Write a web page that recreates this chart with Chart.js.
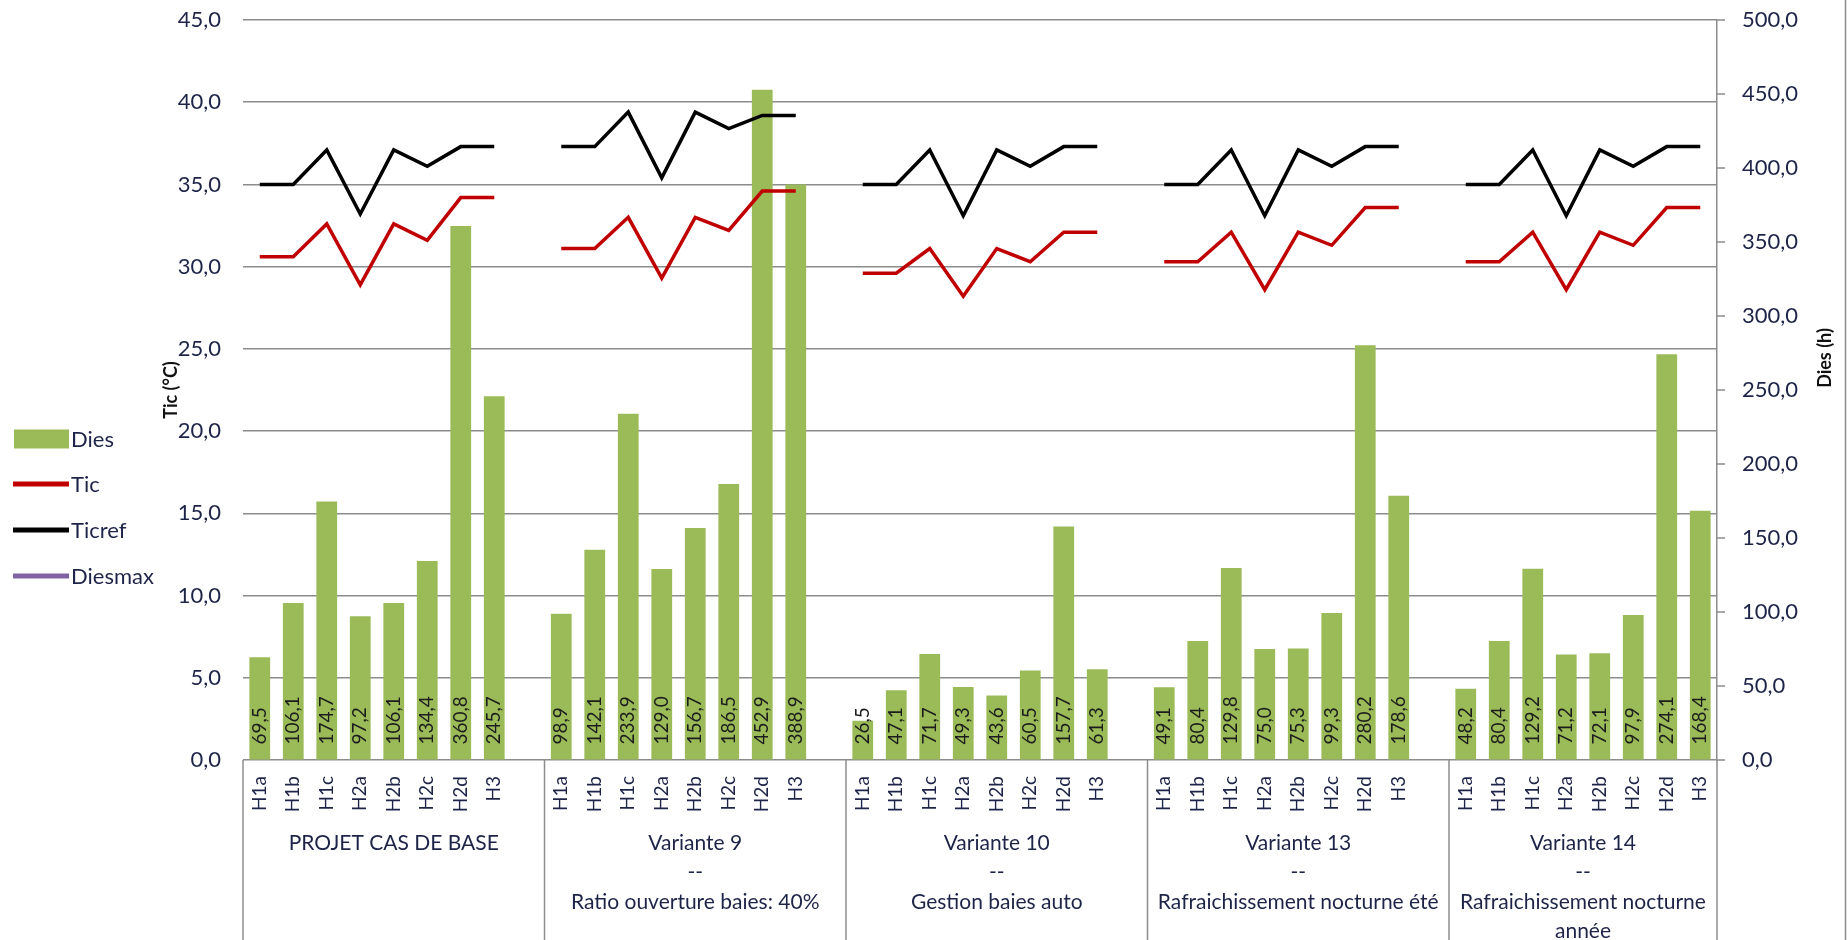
<!DOCTYPE html>
<html><head><meta charset="utf-8">
<script src="https://cdn.jsdelivr.net/npm/chart.js@4/dist/chart.umd.min.js"></script>
<style>html,body{margin:0;padding:0;background:#fff;}canvas{display:block;}</style>
</head><body>
<canvas id="c" width="1847" height="940"></canvas>
<script>
// ---- DATA ----
const subCategories = ['H1a','H1b','H1c','H2a','H2b','H2c','H2d','H3'];
const groupLabels = [
  ['PROJET CAS DE BASE'],
  ['Variante 9','--','Ratio ouverture baies: 40%'],
  ['Variante 10','--','Gestion baies auto'],
  ['Variante 13','--','Rafraichissement nocturne été'],
  ['Variante 14','--','Rafraichissement nocturne','année']
];
const diesBase = [69.5,106.1,174.7,97.2,106.1,134.4,360.8,245.7];
const diesV9   = [98.9,142.1,233.9,129.0,156.7,186.5,452.9,388.9];
const diesV10  = [26.5,47.1,71.7,49.3,43.6,60.5,157.7,61.3];
const diesV13  = [49.1,80.4,129.8,75.0,75.3,99.3,280.2,178.6];
const diesV14  = [48.2,80.4,129.2,71.2,72.1,97.9,274.1,168.4];

const ticBase = [30.6,30.6,32.6,28.9,32.6,31.6,34.2,34.2];
const ticV9   = [31.1,31.1,33.0,29.3,33.0,32.2,34.6,34.6];
const ticV10  = [29.6,29.6,31.1,28.2,31.1,30.3,32.1,32.1];
const ticV13  = [30.3,30.3,32.1,28.6,32.1,31.3,33.6,33.6];
const ticV14  = [30.3,30.3,32.1,28.6,32.1,31.3,33.6,33.6];

const ticrefBase = [35.0,35.0,37.1,33.2,37.1,36.1,37.3,37.3];
const ticrefV9   = [37.3,37.3,39.4,35.4,39.4,38.4,39.2,39.2];
const ticrefV10  = [35.0,35.0,37.1,33.1,37.1,36.1,37.3,37.3];
const ticrefV13  = [35.0,35.0,37.1,33.1,37.1,36.1,37.3,37.3];
const ticrefV14  = [35.0,35.0,37.1,33.1,37.1,36.1,37.3,37.3];

const diesmax = [null,null,null,null,null,null,null,null];

// ---- BUILD (one blank slot after every group but the last) ----
function joinGroups(groups, blank){
  const out = [];
  groups.forEach((g,i)=>{ out.push(...g); if(i<groups.length-1) out.push(blank); });
  return out;
}
const labels = joinGroups(groupLabels.map(()=>subCategories), '');
const diesData = joinGroups([diesBase,diesV9,diesV10,diesV13,diesV14], null);
const ticData = joinGroups([ticBase,ticV9,ticV10,ticV13,ticV14], null);
const ticrefData = joinGroups([ticrefBase,ticrefV9,ticrefV10,ticrefV13,ticrefV14], null);
const diesmaxData = joinGroups([diesmax,diesmax,diesmax,diesmax,diesmax], null);

const FONT = 'Lato';
const TXT = '#1e2448';
const GRID = '#8c8c8c';
const fmt = v => Number(v).toFixed(1).replace('.', ',');

const decor = {
  id: 'decor',
  afterDatasetsDraw(chart){
    const ctx = chart.ctx;
    const meta = chart.getDatasetMeta(0);
    ctx.save();
    ctx.font = '19px ' + FONT;
    ctx.fillStyle = '#1c1c1c';
    ctx.textAlign = 'left';
    ctx.textBaseline = 'middle';
    meta.data.forEach((el, i) => {
      const v = chart.data.datasets[0].data[i];
      if (v === null || v === undefined) return;
      ctx.save();
      ctx.translate(el.x, el.base - 15);
      ctx.rotate(-Math.PI/2);
      ctx.fillText(fmt(v), 0, 0);
      ctx.restore();
    });
    ctx.restore();
  },
  afterDraw(chart){
    const ctx = chart.ctx;
    const xs = chart.scales.x;
    const y1 = chart.scales.y1;
    const slot = xs.getPixelForValue(1) - xs.getPixelForValue(0);
    ctx.save();
    ctx.strokeStyle = GRID;
    ctx.lineWidth = 1.5;
    // right-axis outward tick marks
    y1.ticks.forEach(t => {
      const py = y1.getPixelForValue(t.value);
      ctx.beginPath(); ctx.moveTo(y1.left, py); ctx.lineTo(y1.left + 8, py); ctx.stroke();
    });
    // group boundaries
    const bounds = [xs.left];
    let idx = 0;
    groupLabels.forEach((g, gi) => {
      idx += subCategories.length + (gi < groupLabels.length-1 ? 1 : 0);
      bounds.push(gi < groupLabels.length-1 ? xs.getPixelForValue(idx-1) + slot/2 : xs.right);
    });
    bounds.forEach(b => {
      ctx.beginPath(); ctx.moveTo(b, xs.top); ctx.lineTo(b, chart.height); ctx.stroke();
    });
    // outer frame right edge
    ctx.beginPath(); ctx.moveTo(1845.5, 0); ctx.lineTo(1845.5, chart.height); ctx.stroke();
    // group labels
    ctx.fillStyle = TXT;
    ctx.font = '21px ' + FONT;
    ctx.textAlign = 'center';
    ctx.textBaseline = 'middle';
    groupLabels.forEach((lines, gi) => {
      const cx = (bounds[gi] + bounds[gi+1]) / 2;
      lines.forEach((t, li) => ctx.fillText(t, cx, 843 + li * 29.5));
    });
    // axis titles
    ctx.font = 'bold 18px ' + FONT;
    ctx.fillStyle = '#111';
    ctx.save(); ctx.translate(171, 390); ctx.rotate(-Math.PI/2); ctx.fillText('Tic (°C)', 0, 0); ctx.restore();
    ctx.save(); ctx.translate(1825, 358); ctx.rotate(-Math.PI/2); ctx.fillText('Dies (h)', 0, 0); ctx.restore();
    // legend
    const items = [
      {ds: chart.data.datasets[0], type: 'rect', y: 439},
      {ds: chart.data.datasets[1], type: 'line', y: 484},
      {ds: chart.data.datasets[2], type: 'line', y: 530},
      {ds: chart.data.datasets[3], type: 'line', y: 576}
    ];
    ctx.font = '22px ' + FONT;
    ctx.textAlign = 'left';
    items.forEach(it => {
      if (it.type === 'rect') {
        ctx.fillStyle = it.ds.backgroundColor;
        ctx.fillRect(14, it.y - 9.5, 55, 19);
      } else {
        ctx.strokeStyle = it.ds.borderColor;
        ctx.lineWidth = 5;
        ctx.beginPath(); ctx.moveTo(13, it.y); ctx.lineTo(69, it.y); ctx.stroke();
      }
      ctx.fillStyle = TXT;
      ctx.fillText(it.ds.label, 71, it.y + 1);
    });
    ctx.restore();
  }
};

new Chart(document.getElementById('c'), {
  data: {
    labels: labels,
    datasets: [
      { type: 'bar', label: 'Dies', data: diesData, yAxisID: 'y1', backgroundColor: '#9BBB59',
        barPercentage: 0.62, categoryPercentage: 1.0, order: 3 },
      { type: 'line', label: 'Tic', data: ticData, yAxisID: 'y', borderColor: '#C00000',
        borderWidth: 3.5, pointRadius: 0, tension: 0, spanGaps: false, order: 1 },
      { type: 'line', label: 'Ticref', data: ticrefData, yAxisID: 'y', borderColor: '#000000',
        borderWidth: 3.5, pointRadius: 0, tension: 0, spanGaps: false, order: 2 },
      { type: 'line', label: 'Diesmax', data: diesmaxData, yAxisID: 'y1', borderColor: '#8064A2',
        borderWidth: 3.5, pointRadius: 0, tension: 0, spanGaps: false, order: 0 }
    ]
  },
  options: {
    responsive: false,
    devicePixelRatio: 1,
    animation: false,
    layout: { padding: { top: 20, left: 0, right: 0, bottom: 0 } },
    plugins: { legend: { display: false }, tooltip: { enabled: false } },
    scales: {
      x: {
        type: 'category', offset: true,
        grid: { display: false, drawTicks: false },
        border: { display: false },
        ticks: { autoSkip: false, minRotation: 90, maxRotation: 90, padding: 16,
                 font: { family: FONT, size: 19 }, color: TXT },
        afterFit(s){ s.height = 180; }
      },
      y: {
        position: 'left', min: 0, max: 45,
        grid: { color: GRID, lineWidth: 1.5, drawTicks: true, tickLength: 22, tickColor: 'rgba(0,0,0,0)' },
        border: { display: false },
        ticks: { stepSize: 5, padding: 0, font: { family: FONT, size: 22 }, color: TXT,
                 callback: v => fmt(v) },
        afterFit(s){ s.width = 243; }
      },
      y1: {
        position: 'right', min: 0, max: 500,
        grid: { drawOnChartArea: false, drawTicks: true, tickLength: 25, tickColor: 'rgba(0,0,0,0)' },
        border: { display: true, color: GRID, width: 1.5 },
        ticks: { stepSize: 50, padding: 0, font: { family: FONT, size: 22 }, color: TXT,
                 callback: v => fmt(v) },
        afterFit(s){ s.width = 130; }
      }
    }
  },
  plugins: [decor]
});
</script>
</body></html>
